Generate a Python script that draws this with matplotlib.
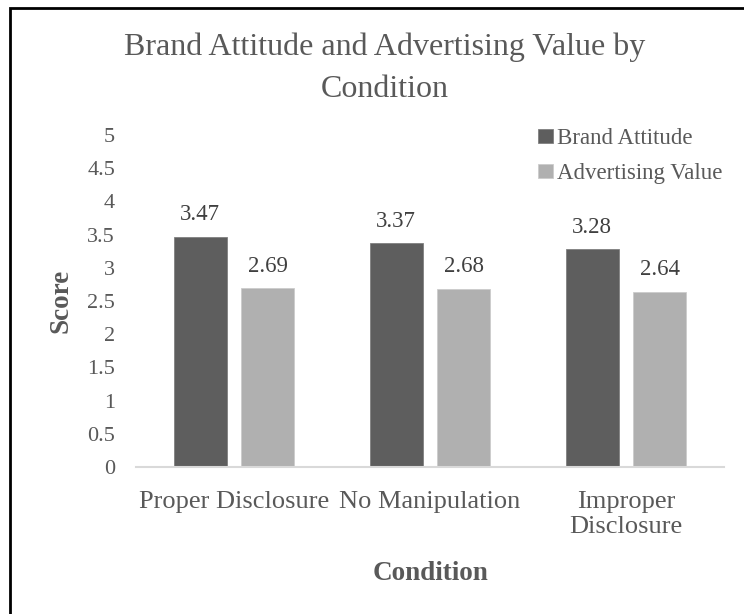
import matplotlib
matplotlib.use('Agg')
import matplotlib.pyplot as plt
import numpy as np
from matplotlib.patches import Rectangle

# data
conditions = ['Proper Disclosure', 'No Manipulation', 'Improper\nDisclosure']
brand_attitude = [3.47, 3.37, 3.28]
advertising_value = [2.69, 2.68, 2.64]
series_names = ['Brand Attitude', 'Advertising Value']
y_ticks = [0, 0.5, 1, 1.5, 2, 2.5, 3, 3.5, 4, 4.5, 5]

plt.rcParams['font.family'] = ['Liberation Serif', 'DejaVu Serif']
txt = '#595959'
W, H = 744, 614

fig = plt.figure(figsize=(W / 100, H / 100), dpi=100)
# plot area: x 136..724 px, y 135..467 px
ax = fig.add_axes([136 / W, 1 - 467 / H, 588 / W, 332 / H])

ind = np.arange(len(conditions))
width = 0.27
off = 0.173

rects1 = ax.bar(ind - off, brand_attitude, width, color='#5e5e5e', edgecolor='#808080', linewidth=0.6)
rects2 = ax.bar(ind + off, advertising_value, width, color='#b0b0b0', edgecolor='#cccccc', linewidth=0.6)

# value labels above bars
for rects, vals in ((rects1, brand_attitude), (rects2, advertising_value)):
    for r, v in zip(rects, vals):
        ax.annotate('%.2f' % v, (r.get_x() + r.get_width() / 2, v), xytext=(0, 12),
                    textcoords='offset points', ha='center', va='baseline',
                    fontsize=16.5, color='#404040')

ax.set_xlim(-0.5, len(conditions) - 0.5)
ax.set_ylim(0, 5)
ax.set_yticks(y_ticks)
ax.set_yticklabels(['%g' % t for t in y_ticks])
ax.set_xticks(ind)
ax.set_xticklabels(conditions, linespacing=1.2)
ax.tick_params(axis='both', length=0, colors=txt)
ax.tick_params(axis='y', labelsize=16, pad=15)
ax.tick_params(axis='x', labelsize=19, pad=17)

for s in ['top', 'right', 'left']:
    ax.spines[s].set_visible(False)
ax.spines['bottom'].set_color('#d9d9d9')
ax.spines['bottom'].set_linewidth(1.5)

# axis titles
fig.text(430 / W, 1 - 573 / H, 'Condition', ha='center', va='center',
         fontsize=19.5, fontweight='bold', color=txt)
fig.text(61 / W, 1 - 301 / H, 'Score', ha='center', va='center', rotation=90,
         fontsize=19.5, fontweight='bold', color=txt)

# chart title (two lines)
fig.text(385 / W, 1 - 55 / H, 'Brand Attitude and Advertising Value by', ha='center',
         va='baseline', fontsize=23, color=txt)
fig.text(385 / W, 1 - 97 / H, 'Condition', ha='center', va='baseline', fontsize=23, color=txt)

ax.legend((rects1[0], rects2[0]), series_names, loc='upper left',
          bbox_to_anchor=(538 / W, 1 - 128 / H), bbox_transform=fig.transFigure,
          frameon=False, fontsize=16.5, labelcolor=txt, handlelength=0.65, handleheight=0.57,
          handletextpad=0.2, labelspacing=0.6, borderpad=0, borderaxespad=0)

# outer frame (top and left edges visible in reference)
fig.patches.append(Rectangle((10 / W, -0.1), 1.2, 1.1 - 8 / H, transform=fig.transFigure,
                             fill=False, edgecolor='black', linewidth=2))

fig.savefig('out.png', dpi=100)
